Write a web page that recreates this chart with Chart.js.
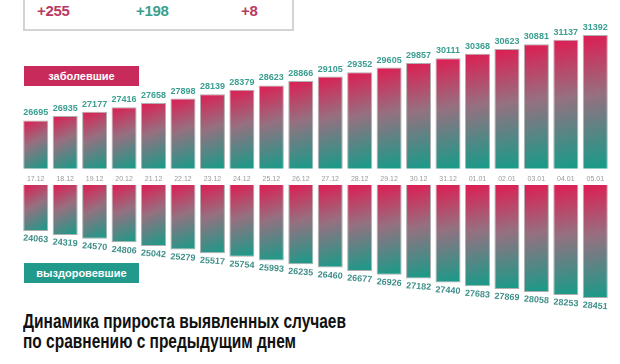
<!DOCTYPE html>
<html><head><meta charset="utf-8">
<script src="https://cdn.jsdelivr.net/npm/chart.js@4/dist/chart.umd.min.js"></script>
<style>
html,body{margin:0;padding:0;background:#fff;}
#wrap{position:relative;width:620px;height:364px;overflow:hidden;background:#fff;font-family:"Liberation Sans",Arial,sans-serif;}
canvas{position:absolute;left:0;}
#box{position:absolute;left:23px;top:-10px;width:267px;height:37px;border:2px solid #d3d3d3;background:#fff;}
.num{position:absolute;top:10px;font-weight:bold;font-size:15px;line-height:18px;letter-spacing:-0.3px;}
.tag{position:absolute;left:24px;width:115px;height:20px;color:#fff;font-weight:bold;font-size:11px;line-height:20px;text-align:center;}
#title{position:absolute;left:23px;top:311px;font-family:"Liberation Sans",Arial,sans-serif;font-weight:bold;font-size:19.5px;line-height:20px;color:#111;white-space:nowrap;transform-origin:0 0;}
</style></head>
<body><div id="wrap">
<div id="box">
<span class="num" style="left:12px;color:#b83a63">+255</span>
<span class="num" style="left:111px;color:#3a9f8c">+198</span>
<span class="num" style="left:216px;color:#b83a63">+8</span>
</div>
<canvas id="top" width="620" height="200" style="top:0"></canvas>
<canvas id="bot" width="620" height="130" style="top:180px"></canvas>
<div class="tag" style="top:66px;background:#c92a5c">заболевшие</div>
<div class="tag" style="top:263px;background:#21998b">выздоровевшие</div>
<div id="title">Динамика прироста выявленных случаев<br>по сравнению с предыдущим днем</div>
</div>
<script>
const dates = ['17.12','18.12','19.12','20.12','21.12','22.12','23.12','24.12','25.12','26.12','27.12','28.12','29.12','30.12','31.12','01.01','02.01','03.01','04.01','05.01'];
const sick = [26695,26935,27177,27416,27658,27898,28139,28379,28623,28866,29105,29352,29605,29857,30111,30368,30623,30881,31137,31392];
const recovered = [24063,24319,24570,24806,25042,25279,25517,25754,25993,26235,26460,26677,26926,27182,27440,27683,27869,28058,28253,28451];

// condense the title to the reference width
(function(){
  const t = document.getElementById('title');
  const w = t.getBoundingClientRect().width;
  t.style.transform = 'scaleX(' + (323 / w) + ')';
})();

const BAR_PCT = 0.85;
function grad(ctx){
  const chart = ctx.chart;
  if(!chart.chartArea) return '#8a5a70';
  const xs = chart.scales.x, ys = chart.scales.y;
  const xc = xs.getPixelForValue(ctx.dataIndex);
  const w = xs.width / dates.length * BAR_PCT;
  const yv = ys.getPixelForValue(ctx.raw);
  const yb = ys.getBasePixel();
  const t = Math.min(yv, yb), b = Math.max(yv, yb);
  const g = chart.ctx.createLinearGradient(xc - w/2, t, xc + w/2, b);
  g.addColorStop(0, '#de1c52');
  g.addColorStop(0.45, '#967080');
  g.addColorStop(1, '#159c89');
  return g;
}
const valueLabels = {
  id:'valueLabels',
  afterDatasetsDraw(chart, args, opts){
    const c = chart.ctx;
    const meta = chart.getDatasetMeta(0);
    c.save();
    c.font = 'bold 9px "Liberation Sans", Arial, sans-serif';
    c.fillStyle = opts.color;
    c.textAlign = 'center';
    meta.data.forEach((el, i) => {
      const v = chart.data.datasets[0].data[i];
      c.save();
      if(opts.below){
        c.translate(el.x, el.y + 8);
        c.rotate(opts.rot || 0);
        c.textBaseline = 'middle';
      } else {
        c.translate(el.x, el.y - 3);
        c.textBaseline = 'bottom';
      }
      c.fillText(String(v), 0, 0);
      c.restore();
    });
    c.restore();
  }
};

new Chart(document.getElementById('top'), {
  type:'bar',
  data:{labels:dates, datasets:[{data:sick, backgroundColor:grad, borderColor:'rgba(110,110,110,0.55)', borderWidth:1, barPercentage:1, categoryPercentage:BAR_PCT}]},
  options:{
    responsive:false, animation:false,
    layout:{padding:{left:21,right:10,top:20,bottom:11}},
    plugins:{legend:{display:false}, tooltip:{enabled:false}, valueLabels:{color:'#3a9e90'}},
    scales:{
      x:{grid:{display:false,drawTicks:false}, border:{display:false}, ticks:{color:'#9a9a9a', font:{size:7}, padding:6, maxRotation:0, autoSkip:false}},
      y:{display:false, min:24043, max:32221}
    }
  },
  plugins:[valueLabels]
});
new Chart(document.getElementById('bot'), {
  type:'bar',
  data:{labels:dates, datasets:[{data:recovered, backgroundColor:grad, borderColor:'rgba(110,110,110,0.55)', borderWidth:1, barPercentage:1, categoryPercentage:BAR_PCT}]},
  options:{
    responsive:false, animation:false,
    layout:{padding:{left:21,right:10,top:5,bottom:0}},
    plugins:{legend:{display:false}, tooltip:{enabled:false}, valueLabels:{color:'#3f8f89', below:true, rot:0.07}},
    scales:{
      x:{display:false},
      y:{display:false, reverse:true, min:21051, max:29237}
    }
  },
  plugins:[valueLabels]
});
</script>
</body></html>
